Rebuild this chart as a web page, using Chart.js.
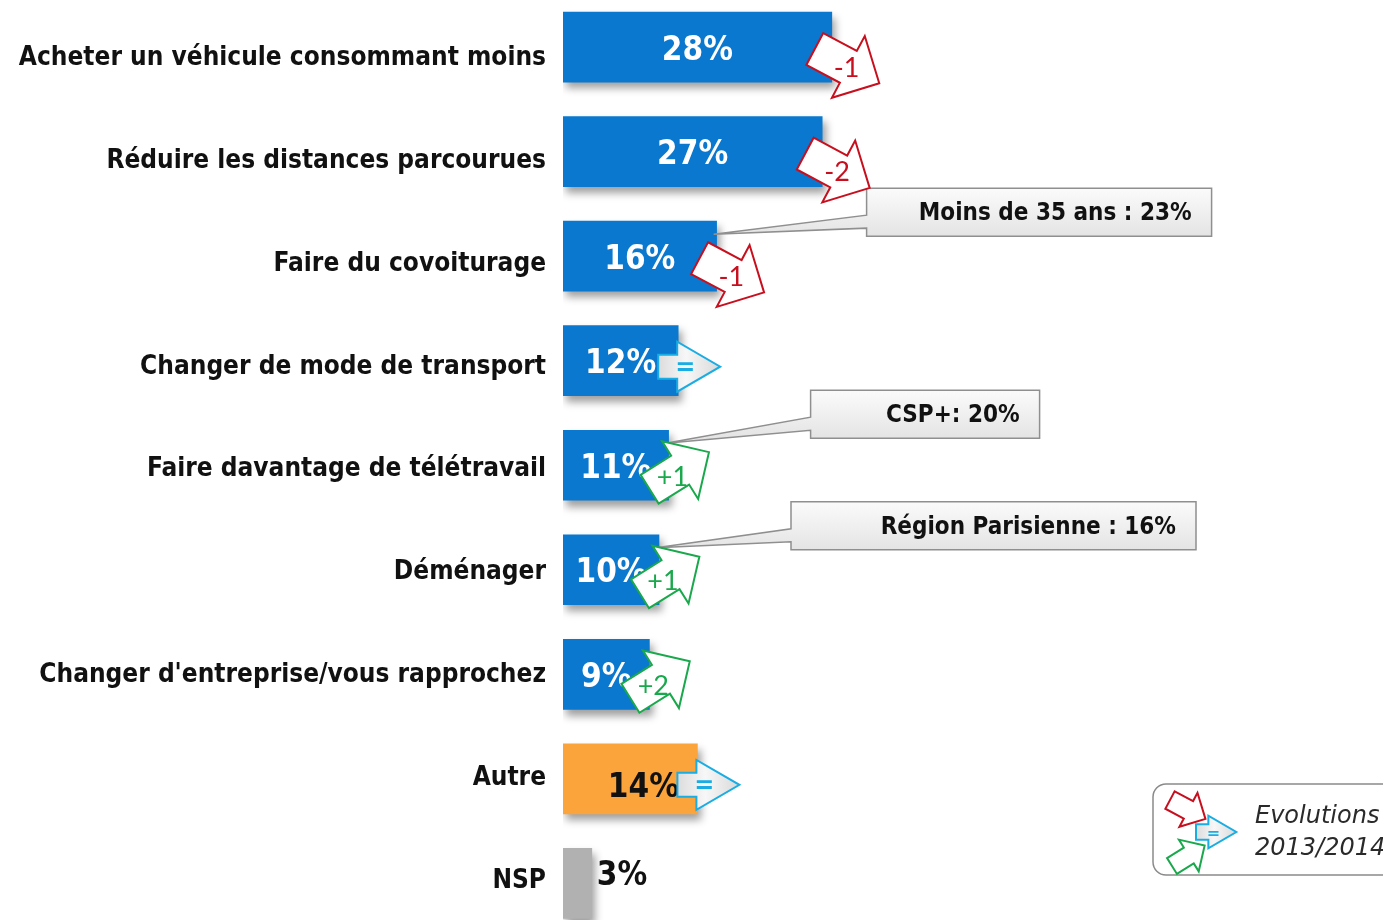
<!DOCTYPE html>
<html>
<head>
<meta charset="utf-8">
<script src="https://cdn.jsdelivr.net/npm/chart.js@4.4.1/dist/chart.umd.min.js"></script>
<style>
  html, body { margin: 0; padding: 0; background: #fff; overflow: hidden; }
  #wrap { width: 1383px; height: 920px; position: relative; }
</style>
</head>
<body>
<div id="wrap"><canvas id="chart"></canvas></div>
<script>
// Data
const categories = [
    'Acheter un véhicule consommant moins',
    'Réduire les distances parcourues',
    'Faire du covoiturage',
    'Changer de mode de transport',
    'Faire davantage de télétravail',
    'Déménager',
    "Changer d'entreprise/vous rapprochez",
    'Autre',
    'NSP'
];
const values = [28, 27, 16, 12, 11, 10, 9, 14, 3];
const evolutions = ['-1', '-2', '-1', '=', '+1', '+1', '+2', '=', ''];
const calloutIndex = [2, 4, 5];
const calloutText = ['Moins de 35 ans : 23%', 'CSP+: 20%', 'Région Parisienne : 16%'];
const legendLines = ['Evolutions', '2013/2014'];

// Styles
const barColors = ['#0A78CE', '#0A78CE', '#0A78CE', '#0A78CE', '#0A78CE', '#0A78CE', '#0A78CE', '#FBA43C', '#B1B1B1'];
const CONDENSED = '"DejaVu Sans Condensed", "DejaVu Sans", sans-serif';
const RED = '#C80F1E', GREEN = '#1AA84C', BLUE = '#1AADE3';

function arrowPath(ctx, x, y, angle, L, sh, sw, hw) {
    ctx.save();
    ctx.translate(x, y);
    ctx.rotate(angle);
    ctx.beginPath();
    ctx.moveTo(0, -sw);
    ctx.lineTo(sh, -sw);
    ctx.lineTo(sh, -hw);
    ctx.lineTo(L, 0);
    ctx.lineTo(sh, hw);
    ctx.lineTo(sh, sw);
    ctx.lineTo(0, sw);
    ctx.closePath();
}

function drawArrow(ctx, kind, x, y, scale, text) {
    const k = scale || 1;
    let angle, L, sh, sw, hw, col, along;
    if (kind === 'down') { angle = 28 * Math.PI / 180; L = 73; sh = 38; sw = 18; hw = 35; col = RED; along = 36; }
    else if (kind === 'up') { angle = -32 * Math.PI / 180; L = 70; sh = 36; sw = 17; hw = 34; col = GREEN; along = 27; }
    else { angle = 0; L = 62; sh = 19; sw = 12; hw = 25; col = BLUE; along = 27; }
    arrowPath(ctx, x, y, angle, L * k, sh * k, sw * k, hw * k);
    if (kind === 'flat') {
        const g = ctx.createLinearGradient(0, 0, L * k, 0);
        g.addColorStop(0, '#dcdcdc');
        g.addColorStop(0.45, '#f7f7f7');
        g.addColorStop(1, '#d9d9d9');
        ctx.fillStyle = g;
    } else {
        ctx.fillStyle = '#ffffff';
    }
    ctx.fill();
    ctx.lineWidth = 2;
    ctx.strokeStyle = col;
    ctx.stroke();
    ctx.restore();
    if (text) {
        const tx = x + Math.cos(angle) * along * k;
        const ty = y + Math.sin(angle) * along * k;
        ctx.save();
        ctx.fillStyle = col;
        ctx.textAlign = 'center';
        ctx.textBaseline = 'middle';
        ctx.font = kind === 'flat' ? 'bold ' + Math.round(24 * k) + 'px "DejaVu Sans", sans-serif'
                                   : Math.round(27 * k) + 'px "Lato", sans-serif';
        ctx.fillText(text, tx, ty + 2);
        ctx.restore();
    }
}

const shadowPlugin = {
    id: 'barShadow',
    beforeDatasetDraw(chart) {
        const ctx = chart.ctx;
        ctx.save();
        ctx.shadowColor = 'rgba(0,0,0,0.38)';
        ctx.shadowBlur = 8;
        ctx.shadowOffsetX = 3;
        ctx.shadowOffsetY = 6;
    },
    afterDatasetDraw(chart) {
        chart.ctx.restore();
    }
};

const decorPlugin = {
    id: 'decor',
    afterDatasetsDraw(chart) {
        const ctx = chart.ctx;
        const meta = chart.getDatasetMeta(0);
        const x0 = chart.scales.x.getPixelForValue(0);

        // value labels
        meta.data.forEach((bar, i) => {
            const end = bar.x, cy = bar.y;
            ctx.save();
            ctx.font = 'bold 33px ' + CONDENSED;
            ctx.textBaseline = 'middle';
            const txt = values[i] + '%';
            if (i === categories.length - 1) {
                ctx.fillStyle = '#111';
                ctx.textAlign = 'left';
                ctx.fillText(txt, end + 5, cy - 7);
            } else if (barColors[i] !== barColors[0]) {
                ctx.fillStyle = '#111';
                ctx.textAlign = 'center';
                ctx.fillText(txt, end - 54, cy + 10);
            } else {
                ctx.fillStyle = '#fff';
                ctx.textAlign = 'center';
                ctx.fillText(txt, (x0 + end) / 2, cy + 4);
            }
            ctx.restore();
        });

        // callout boxes
        const boxes = [{ dx: 150, dy: -68, w: 345 }, { dx: 142, dy: -75, w: 229 }, { dx: 132, dy: -68, w: 405 }];
        calloutIndex.forEach((idx, n) => {
            const bar = meta.data[idx];
            const b = boxes[n];
            const left = bar.x + b.dx, top = bar.y + b.dy, w = b.w, h = 48;
            const tipX = bar.x - 3, tipY = bar.y - 22;
            ctx.save();
            ctx.beginPath();
            ctx.moveTo(left, top);
            ctx.lineTo(left + w, top);
            ctx.lineTo(left + w, top + h);
            ctx.lineTo(left, top + h);
            ctx.lineTo(left, top + 40);
            ctx.lineTo(tipX, tipY);
            ctx.lineTo(left, top + 27);
            ctx.closePath();
            const g = ctx.createLinearGradient(0, top, 0, top + h);
            g.addColorStop(0, '#fbfbfb');
            g.addColorStop(1, '#e4e4e4');
            ctx.fillStyle = g;
            ctx.fill();
            ctx.lineWidth = 1.5;
            ctx.strokeStyle = '#8f8f8f';
            ctx.stroke();
            ctx.fillStyle = '#111';
            ctx.font = 'bold 24px ' + CONDENSED;
            ctx.textAlign = 'right';
            ctx.textBaseline = 'middle';
            ctx.fillText(calloutText[n], left + w - 20, top + 26);
            ctx.restore();
        });

        // evolution arrows
        meta.data.forEach((bar, i) => {
            const ev = evolutions[i];
            if (!ev) return;
            if (ev.startsWith('-')) drawArrow(ctx, 'down', bar.x - 17, bar.y + 2, 1, ev);
            else if (ev.startsWith('+')) drawArrow(ctx, 'up', bar.x - 19, bar.y + 24, 1, ev);
            else drawArrow(ctx, 'flat', bar.x - 20, bar.y + 6, 1, ev);
        });

        // legend box
        ctx.save();
        ctx.beginPath();
        ctx.roundRect(1153, 784, 260, 91, 13);
        ctx.lineWidth = 1.5;
        ctx.strokeStyle = '#8a8a8a';
        ctx.stroke();
        ctx.restore();
        drawArrow(ctx, 'down', 1170, 800, 0.55, '');
        drawArrow(ctx, 'up', 1172, 866, 0.55, '');
        drawArrow(ctx, 'flat', 1196, 832, 0.65, '=');
        ctx.save();
        ctx.fillStyle = '#2a2a2a';
        ctx.font = 'italic 24px "DejaVu Sans", sans-serif';
        ctx.textBaseline = 'middle';
        ctx.fillText(legendLines[0], 1255, 817);
        ctx.fillText(legendLines[1], 1255, 849);
        ctx.restore();
    }
};

const indexTicks = scale => { scale.ticks = categories.map((c, i) => ({ value: i })); };

new Chart(document.getElementById('chart'), {
    type: 'bar',
    data: {
        datasets: [{
            data: values.map((v, i) => ({ x: v, y: i })),
            backgroundColor: barColors,
            borderWidth: 0,
            barThickness: 70
        }]
    },
    options: {
        indexAxis: 'y',
        responsive: true,
        maintainAspectRatio: false,
        animation: false,
        layout: { autoPadding: false, padding: { left: 0, right: 4, top: 0, bottom: 0 } },
        scales: {
            x: { type: 'linear', min: 0, max: 85, display: false },
            y: {
                type: 'linear',
                reverse: true,
                offset: false,
                min: -0.45,
                max: 8.35,
                display: false,
                afterBuildTicks: indexTicks
            },
            labels: {
                type: 'linear',
                position: 'left',
                reverse: true,
                offset: false,
                min: -0.535,
                max: 8.405,
                border: { display: false },
                grid: { display: false, drawTicks: false },
                afterBuildTicks: indexTicks,
                afterFit: scale => {
                    scale.width = 563;
                    scale.paddingTop = 0;
                    scale.paddingBottom = 0;
                },
                ticks: {
                    padding: 17,
                    labelOffset: 3,
                    color: '#111',
                    font: { family: CONDENSED, size: 26, weight: 'bold' },
                    callback: v => categories[v] ?? ''
                }
            }
        },
        plugins: {
            legend: { display: false },
            tooltip: { enabled: false }
        }
    },
    plugins: [shadowPlugin, decorPlugin]
});
</script>
</body>
</html>
